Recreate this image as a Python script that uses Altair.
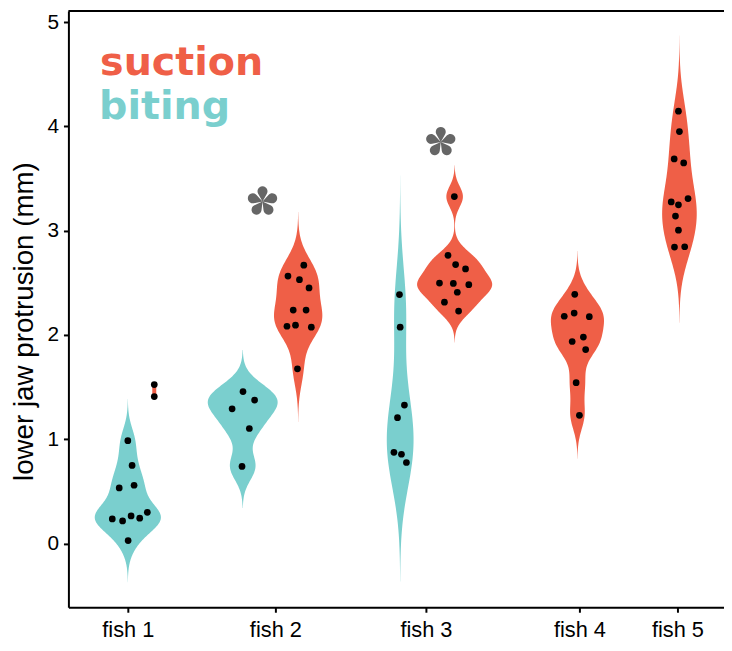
import json
import math
import numpy as np
import pandas as pd
import altair as alt

# ---------------- data ----------------
FISH = ["fish 1", "fish 2", "fish 3", "fish 4", "fish 5"]
FISH_TICK = [60, 209, 361, 516, 615]

MODES = ["suction", "biting"]
COLORS = ["#EF5F47", "#7ACFCE"]

# each violin group: fish, feeding mode, x position (dodged)
GROUP_FISH = ["fish 1", "fish 1", "fish 2", "fish 2", "fish 3", "fish 3", "fish 4", "fish 5"]
GROUP_MODE = ["biting", "suction", "biting", "suction", "biting", "suction", "suction", "suction"]
GROUP_X = [60, 86.7, 176, 232, 335, 390, 514, 617]

# observations per group (y = lower jaw protrusion in mm, x = jittered position)
Y_F1_B = [0.987, 0.75, 0.534, 0.56, 0.237, 0.218, 0.266, 0.244, 0.30, 0.03]
X_F1_B = [60, 64.3, 51.3, 66.3, 44.3, 54.7, 63.3, 72, 79.7, 60.3]
Y_F1_S = [1.525, 1.41]
X_F1_S = [86.7, 86.7]
Y_F2_B = [1.458, 1.376, 1.293, 1.104, 0.74]
X_F2_B = [176.3, 188, 165.3, 182.7, 175.3]
Y_F2_S = [2.669, 2.565, 2.53, 2.451, 2.239, 2.239, 2.084, 2.094, 2.075, 1.676]
X_F2_S = [237.7, 221.7, 233.3, 243, 227, 240, 220.7, 229.3, 245.3, 231.3]
Y_F3_B = [2.388, 2.075, 1.328, 1.208, 0.876, 0.857, 0.778]
X_F3_B = [334.3, 335, 339.3, 332.3, 328.7, 336.3, 341.3]
Y_F3_S = [3.327, 2.764, 2.675, 2.634, 2.498, 2.495, 2.483, 2.41, 2.315, 2.23]
X_F3_S = [389.7, 383.3, 391, 401, 374.7, 388.7, 404.3, 392.7, 379.7, 394]
Y_F4_S = [2.39, 2.18, 2.21, 2.176, 1.938, 1.98, 1.86, 1.543, 1.23]
X_F4_S = [511.3, 500.7, 510.7, 526, 508.7, 520, 522.3, 512.7, 516]
Y_F5_S = [4.146, 3.95, 3.688, 3.65, 3.276, 3.248, 3.308, 3.14, 3.005, 2.843, 2.846]
X_F5_S = [616, 617, 611.7, 621.3, 608.7, 616, 625.7, 613, 616, 612, 622.3]

GROUP_Y = [Y_F1_B, Y_F1_S, Y_F2_B, Y_F2_S, Y_F3_B, Y_F3_S, Y_F4_S, Y_F5_S]
GROUP_PX = [X_F1_B, X_F1_S, X_F2_B, X_F2_S, X_F3_B, X_F3_S, X_F4_S, X_F5_S]

# significance markers (x position, y value)
SIG_X = [196, 376]
SIG_Y = [3.28, 3.85]

# ---------------- helpers ----------------
XSCALE = alt.Scale(domain=[0, 662], nice=False, zero=False)
YSCALE = alt.Scale(domain=[-0.61, 5.105], nice=False, zero=False)

label_expr = f"{json.dumps(FISH)}[indexof({json.dumps(FISH_TICK)}, datum.value)]"
XAXIS = alt.Axis(values=FISH_TICK, labelExpr=label_expr, title="", grid=False,
                 domainColor="black", domainWidth=2, tickColor="black", tickWidth=2,
                 tickSize=5, labelFont="Liberation Sans", labelFontSize=22,
                 labelColor="black", labelPadding=8)
YAXIS = alt.Axis(values=[0, 1, 2, 3, 4, 5], title="lower jaw protrusion (mm)", grid=False,
                 domainColor="black", domainWidth=2, tickColor="black", tickWidth=2,
                 tickSize=5, labelFont="Liberation Sans", labelFontSize=21,
                 labelColor="black", labelPadding=5, titleFont="Liberation Sans",
                 titleFontSize=28, titleFontWeight="normal", titleColor="black",
                 titleAngle=270, titleX=-44, titleY=313, titleAlign="center",
                 titleBaseline="middle")


def xenc(field):
    return alt.X(field, scale=XSCALE, axis=XAXIS)


def yenc(field):
    return alt.Y(field, scale=YSCALE, axis=YAXIS)


def nrd0(v):
    v = np.asarray(v, dtype=float)
    sd = v.std(ddof=1)
    q1, q3 = np.percentile(v, [25, 75])
    lo = min(sd, (q3 - q1) / 1.34)
    return 0.9 * lo * len(v) ** (-0.2)


K = 21  # horizontal units per density unit

layers = []
for gi in range(len(GROUP_Y)):
    vals = GROUP_Y[gi]
    col = COLORS[MODES.index(GROUP_MODE[gi])]
    df = pd.DataFrame({"y": vals, "xc": [GROUP_X[gi]] * len(vals)})
    if len(vals) < 3:
        layers.append(
            alt.Chart(df).mark_rule(color=col, strokeWidth=4).encode(
                x=xenc("xc:Q"), y=yenc("min(y):Q"), y2="max(y):Q"
            )
        )
        continue
    bw = nrd0(vals)
    ext = [float(min(vals) - 3 * bw), float(max(vals) + 3 * bw)]
    v = (
        alt.Chart(df)
        .transform_density("y", as_=["value", "density"], bandwidth=float(bw),
                           extent=ext, steps=200, groupby=["xc"])
        .transform_calculate(left=f"datum.xc - datum.density*{K}",
                             right=f"datum.xc + datum.density*{K}")
        .mark_area(orient="horizontal", color=col, opacity=1)
        .encode(y=yenc("value:Q"), x=xenc("left:Q"), x2="right:Q")
    )
    layers.append(v)

# points
pts = pd.DataFrame({
    "x": [x for g in GROUP_PX for x in g],
    "y": [y for g in GROUP_Y for y in g],
})
layers.append(
    alt.Chart(pts).mark_circle(size=46, color="black", opacity=1).encode(
        x=xenc("x:Q"), y=yenc("y:Q")
    )
)

# asterisk shape (5 teardrop petals)
def petal(theta_deg, d=0.63, r=0.31):
    th = math.radians(theta_deg)
    a = math.asin(r / d)
    t = math.sqrt(d * d - r * r)
    p1 = (t * math.sin(th - a), -t * math.cos(th - a))
    p2 = (t * math.sin(th + a), -t * math.cos(th + a))
    return (f"M0,0L{p1[0]:.4f},{p1[1]:.4f}A{r},{r} 0 1 1 {p2[0]:.4f},{p2[1]:.4f}Z")


STAR = "".join(petal(k * 72) for k in range(5))
sig = pd.DataFrame({"x": SIG_X, "y": SIG_Y})
layers.append(
    alt.Chart(sig).mark_point(shape=STAR, filled=True, size=1060, color="#666666",
                              opacity=1, strokeWidth=0).encode(
        x=xenc("x:Q"), y=yenc("y:Q")
    )
)

# legend labels
leg = pd.DataFrame({"label": MODES})
for i, m in enumerate(MODES):
    layers.append(
        alt.Chart(leg).transform_filter(alt.datum.label == m)
        .mark_text(font="DejaVu Sans", fontWeight="bold", fontSize=40, align="left",
                   baseline="alphabetic", color=COLORS[i])
        .encode(x=alt.value(32 if i == 0 else 31), y=alt.value(64.7 if i == 0 else 109),
                text="label:N")
    )

# top frame line
layers.append(
    alt.Chart(pd.DataFrame({"a": [0]})).mark_rule(color="black", strokeWidth=2).encode(
        x=alt.value(0), x2=alt.value(662), y=alt.value(0)
    )
)

chart = (
    alt.layer(*layers)
    .properties(width=662, height=602, autosize=alt.AutoSizeParams(type="none"),
                padding={"left": 61, "top": 0, "right": 0, "bottom": 41})
    .configure_view(stroke="transparent")
)

chart.save("out.html", embed_options={"renderer": "svg", "actions": False})
